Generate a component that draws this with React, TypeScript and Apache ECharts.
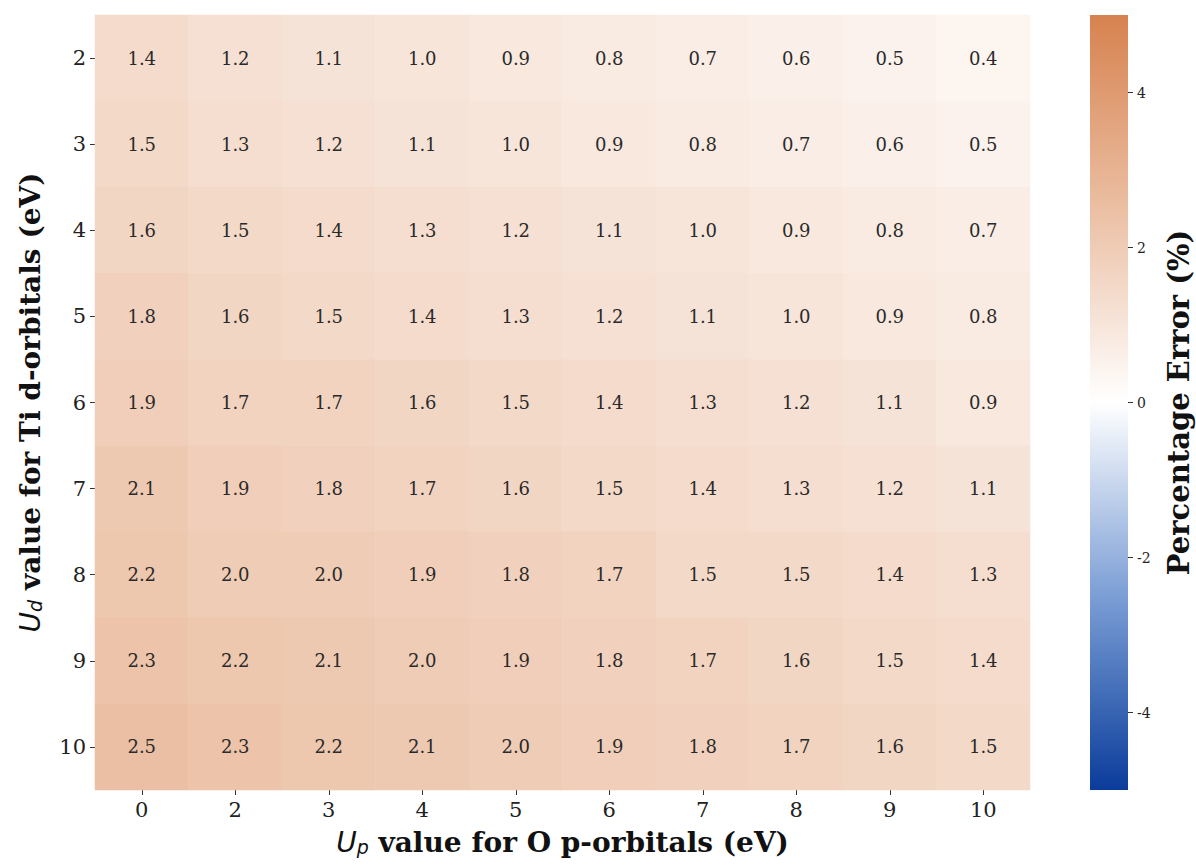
import React, { useEffect, useRef } from "react";
import * as echarts from "echarts";

const xCategories = ["0", "2", "3", "4", "5", "6", "7", "8", "9", "10"];
const yCategories = ["2", "3", "4", "5", "6", "7", "8", "9", "10"];

const row2 = [1.4, 1.2, 1.1, 1.0, 0.9, 0.8, 0.7, 0.6, 0.5, 0.4];
const row3 = [1.5, 1.3, 1.2, 1.1, 1.0, 0.9, 0.8, 0.7, 0.6, 0.5];
const row4 = [1.6, 1.5, 1.4, 1.3, 1.2, 1.1, 1.0, 0.9, 0.8, 0.7];
const row5 = [1.8, 1.6, 1.5, 1.4, 1.3, 1.2, 1.1, 1.0, 0.9, 0.8];
const row6 = [1.9, 1.7, 1.7, 1.6, 1.5, 1.4, 1.3, 1.2, 1.1, 0.9];
const row7 = [2.1, 1.9, 1.8, 1.7, 1.6, 1.5, 1.4, 1.3, 1.2, 1.1];
const row8 = [2.2, 2.0, 2.0, 1.9, 1.8, 1.7, 1.5, 1.5, 1.4, 1.3];
const row9 = [2.3, 2.2, 2.1, 2.0, 1.9, 1.8, 1.7, 1.6, 1.5, 1.4];
const row10 = [2.5, 2.3, 2.2, 2.1, 2.0, 1.9, 1.8, 1.7, 1.6, 1.5];
const rows = [row2, row3, row4, row5, row6, row7, row8, row9, row10];

const colorbarTicks = [-4, -2, 0, 2, 4];
const colorMin = -5;
const colorMax = 5;
// low -> high
const paletteColors = ["#0a3c9b", "#7b9ed5", "#ffffff", "#ebbfa3", "#d7824f"];

const SERIF = "'DejaVu Serif', serif";
const SANS = "'DejaVu Sans', sans-serif";

export default function App() {
  const ref = useRef<HTMLDivElement>(null);

  useEffect(() => {
    if (!ref.current) return;
    const chart = echarts.init(ref.current, null, { renderer: "svg" });

    const data: number[][] = [];
    rows.forEach((r, yi) => r.forEach((v, xi) => data.push([xi, yi, v])));

    const n = paletteColors.length;
    const gradStops = paletteColors
      .map((c, i) => ({ offset: 1 - i / (n - 1), color: c }))
      .reverse();

    const nameRich = (size: number, subSize: number) => ({
      u: { fontFamily: SANS, fontStyle: "italic", fontSize: size, color: "#111", lineHeight: size + 2, verticalAlign: "bottom" },
      s: { fontFamily: SANS, fontStyle: "italic", fontSize: subSize, color: "#111", lineHeight: subSize - 2, verticalAlign: "bottom" },
      b: { fontFamily: SERIF, fontWeight: "bold", fontSize: size, color: "#111", lineHeight: size + 2, verticalAlign: "bottom" },
    });

    chart.setOption({
      animation: false,
      backgroundColor: "#ffffff",
      grid: [
        { left: 95, top: 15, width: 935, height: 775 },
        { left: 1090, top: 15, width: 38, height: 775 },
      ],
      xAxis: [
        {
          type: "category",
          gridIndex: 0,
          data: xCategories,
          axisLine: { show: false },
          axisTick: { show: true, alignWithLabel: true, length: 5, lineStyle: { color: "#333" } },
          axisLabel: { fontFamily: SERIF, fontSize: 21, color: "#222", margin: 9 },
          splitLine: { show: false },
          name: "{u|U}{s|p}{b| value for O p-orbitals (eV)}",
          nameLocation: "middle",
          nameGap: 36,
          nameTextStyle: { rich: nameRich(28, 19) },
        },
        {
          type: "category",
          gridIndex: 1,
          data: [""],
          show: false,
        },
      ],
      yAxis: [
        {
          type: "category",
          gridIndex: 0,
          data: yCategories,
          inverse: true,
          axisLine: { show: false },
          axisTick: { show: true, alignWithLabel: true, length: 5, lineStyle: { color: "#333" } },
          axisLabel: { fontFamily: SERIF, fontSize: 21, color: "#222", margin: 9 },
          splitLine: { show: false },
          name: "{u|U}{s|d}{b| value for Ti d-orbitals (eV)}",
          nameLocation: "middle",
          nameRotate: 90,
          nameGap: 51,
          nameTextStyle: { rich: nameRich(28, 19) },
        },
        {
          type: "value",
          gridIndex: 1,
          position: "right",
          min: colorMin,
          max: colorMax,
          axisLine: { show: false },
          splitLine: { show: false },
          axisTick: { show: true, length: 5, customValues: colorbarTicks, lineStyle: { color: "#333" } },
          axisLabel: { fontFamily: SERIF, fontSize: 14, color: "#222", margin: 9, customValues: colorbarTicks },
          name: "Percentage Error (%)",
          nameLocation: "middle",
          nameRotate: 90,
          nameGap: 36,
          nameTextStyle: { fontFamily: SERIF, fontWeight: "bold", fontSize: 29, color: "#111" },
        },
      ],
      visualMap: {
        show: false,
        type: "continuous",
        min: colorMin,
        max: colorMax,
        seriesIndex: 0,
        inRange: { color: paletteColors },
      },
      series: [
        {
          type: "heatmap",
          xAxisIndex: 0,
          yAxisIndex: 0,
          data,
          label: {
            show: true,
            fontFamily: SERIF,
            fontSize: 18,
            color: "#2a2a2a",
            formatter: (p: any) => Number(p.value[2]).toFixed(1),
          },
          itemStyle: { borderWidth: 0 },
          emphasis: { disabled: true },
        },
        {
          type: "custom",
          xAxisIndex: 1,
          yAxisIndex: 1,
          data: [[0, colorMax]],
          silent: true,
          renderItem: (params: any, api: any) => {
            const cs = params.coordSys;
            const top = api.coord([0, colorMax]);
            const bottom = api.coord([0, colorMin]);
            return {
              type: "rect",
              shape: { x: cs.x, y: top[1], width: cs.width, height: bottom[1] - top[1] },
              style: { fill: new echarts.graphic.LinearGradient(0, 0, 0, 1, gradStops) },
            };
          },
        },
      ],
    });

    return () => chart.dispose();
  }, []);

  return (
    <div
      ref={ref}
      style={{ position: "fixed", left: 0, top: 0, width: 1196, height: 865, background: "#fff" }}
    />
  );
}
